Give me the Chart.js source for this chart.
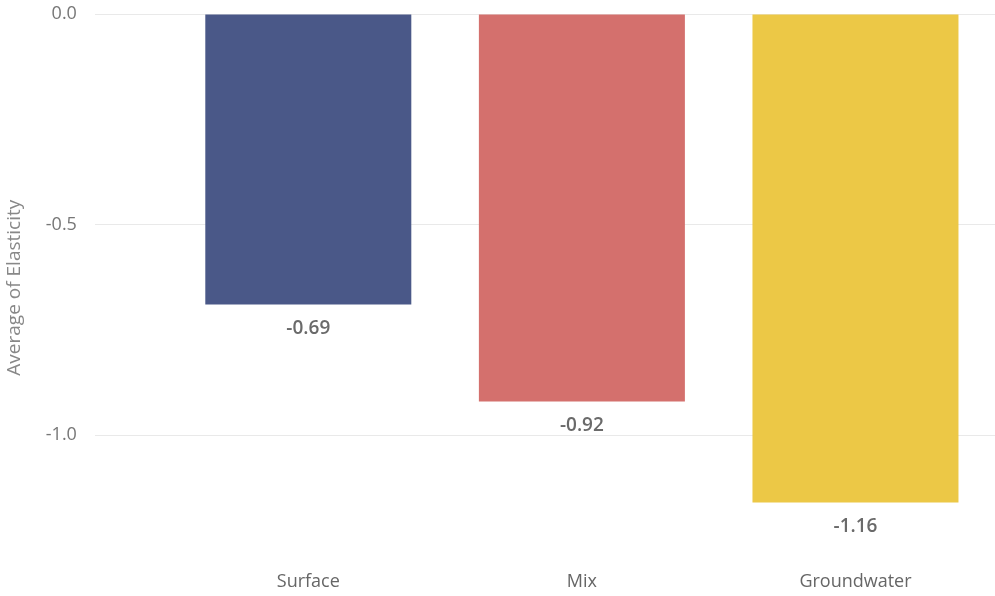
<!DOCTYPE html>
<html>
<head>
<meta charset="utf-8">
<script src="https://cdn.jsdelivr.net/npm/chart.js@4"></script>
<style>
  html, body { margin: 0; padding: 0; background: #fff; }
  #wrap { width: 995px; height: 596px; }
</style>
</head>
<body>
<div id="wrap"><canvas id="elasticityChart"></canvas></div>
<script>
// Average elasticity by water source
const categories = ["Surface", "Mix", "Groundwater"];
const elasticity = [-0.69, -0.92, -1.16];
const barColors = ["#4A5888", "#D4706D", "#ECC846"];
const yTicks = [-1.0, -0.5, 0];

const FONT = "'Open Sans', 'Noto Sans', sans-serif";

// value label under each bar end
const valueLabels = {
    id: "valueLabels",
    afterDatasetsDraw(chart) {
        const ctx = chart.ctx;
        const meta = chart.getDatasetMeta(0);
        ctx.save();
        ctx.font = "600 19px " + FONT;
        ctx.fillStyle = "#6a6a6a";
        ctx.textAlign = "center";
        ctx.textBaseline = "middle";
        meta.data.forEach((bar, i) => {
            ctx.fillText(elasticity[i].toFixed(2), bar.x, bar.y + 24);
        });
        ctx.restore();
    }
};

const ctx = document.getElementById("elasticityChart").getContext("2d");

new Chart(ctx, {
    type: "bar",
    data: {
        datasets: [{
            label: "Average of Elasticity",
            data: elasticity.map((v, i) => ({ x: i, y: v })),
            backgroundColor: barColors,
            borderWidth: 0,
            barPercentage: 0.753,
            categoryPercentage: 1.0
        }]
    },
    options: {
        responsive: true,
        maintainAspectRatio: false,
        animation: false,
        layout: { padding: { top: 14, right: 0, bottom: -7, left: 2 } },
        plugins: {
            legend: { display: false },
            tooltip: { enabled: false }
        },
        scales: {
            x: {
                type: "linear",
                offset: false,
                min: -0.78,
                max: 2.51,
                grid: { display: false, drawTicks: false },
                border: { display: false },
                afterBuildTicks: axis => {
                    axis.ticks = categories.map((c, i) => ({ value: i }));
                },
                ticks: {
                    padding: 10,
                    color: "#666",
                    maxRotation: 0,
                    font: { family: FONT, size: 18 },
                    callback: v => categories[v]
                }
            },
            y: {
                min: -1.3,
                max: 0,
                afterBuildTicks: axis => {
                    axis.ticks = yTicks.map(v => ({ value: v }));
                },
                // keep the tick padding from pushing the plot down
                afterFit: axis => {
                    axis.paddingTop = 0;
                },
                grid: { color: "#e9e9e9", drawTicks: false },
                border: { display: false },
                ticks: {
                    padding: 18,
                    color: "#777",
                    font: { family: FONT, size: 18 },
                    callback: v => v.toFixed(1)
                },
                title: {
                    display: true,
                    text: "Average of Elasticity",
                    color: "#888",
                    font: { family: FONT, size: 19 },
                    padding: { top: 1, bottom: 2 }
                }
            }
        }
    },
    plugins: [valueLabels]
});
</script>
</body>
</html>
